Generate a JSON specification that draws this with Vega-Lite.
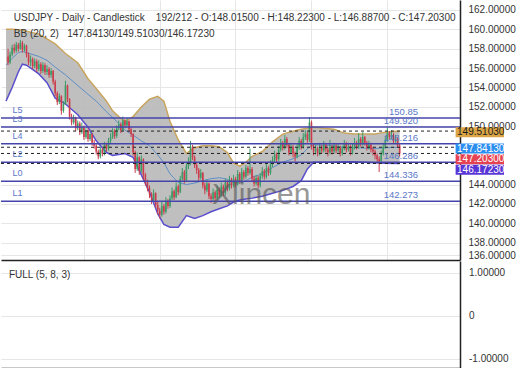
{
  "$schema": "https://vega.github.io/schema/vega-lite/v6.json",
  "padding": {"left": 0, "top": 0, "right": 12, "bottom": 0},
  "autosize": {"type": "pad"},
  "background": "white",
  "spacing": 0,
  "config": {
    "view": {"stroke": null},
    "font": "Liberation Sans",
    "axis": {"labelFont": "Liberation Sans", "labelFontSize": 10, "labelColor": "#333333", "labelOverlap": false}
  },
  "datasets": {
    "candles": [
      {"t":1,"o":157.2,"h":158.0,"l":156.3,"c":156.6},{"t":2,"o":156.6,"h":157.7,"l":156.4,"c":157.4},{"t":3,"o":157.4,"h":158.4,"l":157.2,"c":158.1},{"t":4,"o":158.1,"h":158.5,"l":157.5,"c":157.8},{"t":5,"o":157.8,"h":158.7,"l":157.6,"c":158.4},
      {"t":6,"o":158.4,"h":158.6,"l":157.7,"c":158.0},{"t":7,"o":158.0,"h":158.9,"l":157.9,"c":158.6},{"t":8,"o":158.6,"h":158.8,"l":157.6,"c":157.9},{"t":9,"o":157.9,"h":158.5,"l":157.7,"c":158.3},{"t":10,"o":158.3,"h":158.4,"l":157.1,"c":157.4},
      {"t":11,"o":157.4,"h":157.6,"l":156.3,"c":156.6},{"t":12,"o":156.6,"h":157.3,"l":156.2,"c":156.9},{"t":13,"o":156.9,"h":157.1,"l":155.9,"c":156.2},{"t":14,"o":156.2,"h":157.0,"l":156.0,"c":156.7},{"t":15,"o":156.7,"h":156.9,"l":155.6,"c":155.9},
      {"t":16,"o":155.9,"h":156.8,"l":155.7,"c":156.4},{"t":17,"o":156.4,"h":156.6,"l":155.4,"c":155.7},{"t":18,"o":155.7,"h":156.6,"l":155.5,"c":156.3},{"t":19,"o":156.3,"h":156.5,"l":155.3,"c":155.6},{"t":20,"o":155.6,"h":156.3,"l":155.3,"c":155.9},
      {"t":21,"o":155.9,"h":156.1,"l":155.0,"c":155.3},{"t":22,"o":155.3,"h":156.0,"l":155.0,"c":155.7},{"t":23,"o":155.7,"h":155.8,"l":154.3,"c":154.6},{"t":24,"o":154.6,"h":154.8,"l":153.1,"c":153.4},{"t":25,"o":153.4,"h":153.6,"l":152.2,"c":152.5},
      {"t":26,"o":152.5,"h":153.4,"l":152.3,"c":153.1},{"t":27,"o":153.1,"h":153.2,"l":151.2,"c":151.6},{"t":28,"o":151.6,"h":152.6,"l":151.4,"c":152.3},{"t":29,"o":152.3,"h":154.7,"l":152.2,"c":154.2},{"t":30,"o":154.2,"h":154.3,"l":152.5,"c":152.8},
      {"t":31,"o":152.8,"h":152.9,"l":150.7,"c":151.0},{"t":32,"o":151.0,"h":151.3,"l":150.1,"c":150.4},{"t":33,"o":150.4,"h":151.2,"l":150.2,"c":150.9},{"t":34,"o":150.9,"h":151.0,"l":149.5,"c":149.8},{"t":35,"o":149.8,"h":150.6,"l":149.6,"c":150.3},
      {"t":36,"o":150.3,"h":150.5,"l":149.1,"c":149.4},{"t":37,"o":149.4,"h":150.4,"l":149.2,"c":149.9},{"t":38,"o":149.9,"h":150.1,"l":148.6,"c":148.9},{"t":39,"o":148.9,"h":149.9,"l":148.7,"c":149.6},{"t":40,"o":149.6,"h":149.8,"l":148.4,"c":148.7},
      {"t":41,"o":148.7,"h":149.5,"l":148.5,"c":149.2},{"t":42,"o":149.2,"h":149.3,"l":148.0,"c":148.3},{"t":43,"o":148.3,"h":148.6,"l":147.7,"c":148.0},{"t":44,"o":148.0,"h":148.2,"l":147.1,"c":147.4},{"t":45,"o":147.4,"h":147.6,"l":146.6,"c":146.9},
      {"t":46,"o":146.9,"h":147.9,"l":146.7,"c":147.6},{"t":47,"o":147.6,"h":147.8,"l":146.9,"c":147.2},{"t":48,"o":147.2,"h":148.4,"l":147.0,"c":148.1},{"t":49,"o":148.1,"h":148.3,"l":147.4,"c":147.7},{"t":50,"o":147.7,"h":148.8,"l":147.5,"c":148.5},
      {"t":51,"o":148.5,"h":149.3,"l":148.2,"c":148.9},{"t":52,"o":148.9,"h":149.8,"l":148.7,"c":149.5},{"t":53,"o":149.5,"h":149.7,"l":148.7,"c":149.0},{"t":54,"o":149.0,"h":150.1,"l":148.8,"c":149.8},{"t":55,"o":149.8,"h":150.6,"l":149.6,"c":150.2},
      {"t":56,"o":150.2,"h":150.4,"l":149.3,"c":149.6},{"t":57,"o":149.6,"h":151.0,"l":149.5,"c":150.6},{"t":58,"o":150.6,"h":150.8,"l":149.8,"c":150.1},{"t":59,"o":150.1,"h":150.9,"l":149.9,"c":150.5},{"t":60,"o":150.5,"h":150.6,"l":149.4,"c":149.7},
      {"t":61,"o":149.7,"h":149.9,"l":148.9,"c":149.2},{"t":62,"o":149.2,"h":149.3,"l":147.0,"c":147.3},{"t":63,"o":147.3,"h":147.5,"l":145.2,"c":145.6},{"t":64,"o":145.6,"h":147.3,"l":145.4,"c":146.8},{"t":65,"o":146.8,"h":146.9,"l":145.0,"c":145.4},
      {"t":66,"o":145.4,"h":147.0,"l":145.2,"c":146.6},{"t":67,"o":146.6,"h":146.7,"l":144.5,"c":145.0},{"t":68,"o":145.0,"h":145.2,"l":143.9,"c":144.2},{"t":69,"o":144.2,"h":144.5,"l":143.3,"c":143.6},{"t":70,"o":143.6,"h":143.9,"l":142.6,"c":143.0},
      {"t":71,"o":143.0,"h":143.2,"l":142.0,"c":142.4},{"t":72,"o":142.4,"h":143.5,"l":142.2,"c":143.1},{"t":73,"o":143.1,"h":143.2,"l":141.6,"c":141.9},{"t":74,"o":141.9,"h":142.2,"l":140.9,"c":141.3},{"t":75,"o":141.3,"h":141.6,"l":140.5,"c":140.9},
      {"t":76,"o":140.9,"h":142.2,"l":140.7,"c":141.8},{"t":77,"o":141.8,"h":142.0,"l":140.9,"c":141.2},{"t":78,"o":141.2,"h":142.7,"l":141.0,"c":142.3},{"t":79,"o":142.3,"h":142.5,"l":141.5,"c":141.8},{"t":80,"o":141.8,"h":142.9,"l":141.6,"c":142.6},
      {"t":81,"o":142.6,"h":143.7,"l":142.4,"c":143.3},{"t":82,"o":143.3,"h":143.5,"l":142.4,"c":142.7},{"t":83,"o":142.7,"h":144.2,"l":142.6,"c":143.8},{"t":84,"o":143.8,"h":144.0,"l":142.9,"c":143.2},{"t":85,"o":143.2,"h":144.9,"l":143.1,"c":144.6},
      {"t":86,"o":144.6,"h":145.7,"l":144.4,"c":145.3},{"t":87,"o":145.3,"h":145.5,"l":144.1,"c":144.4},{"t":88,"o":144.4,"h":146.2,"l":144.3,"c":145.9},{"t":89,"o":145.9,"h":146.8,"l":145.6,"c":146.2},{"t":90,"o":146.2,"h":148.5,"l":146.0,"c":147.9},
      {"t":91,"o":147.9,"h":148.1,"l":146.5,"c":146.8},{"t":92,"o":146.8,"h":147.0,"l":145.7,"c":146.0},{"t":93,"o":146.0,"h":146.3,"l":145.1,"c":145.5},{"t":94,"o":145.5,"h":145.7,"l":144.3,"c":144.7},{"t":95,"o":144.7,"h":145.6,"l":144.5,"c":145.2},
      {"t":96,"o":145.2,"h":145.3,"l":143.6,"c":143.9},{"t":97,"o":143.9,"h":144.2,"l":143.0,"c":143.4},{"t":98,"o":143.4,"h":144.5,"l":143.2,"c":144.1},{"t":99,"o":144.1,"h":144.2,"l":142.5,"c":142.8},{"t":100,"o":142.8,"h":143.1,"l":142.1,"c":142.5},
      {"t":101,"o":142.5,"h":143.6,"l":142.3,"c":143.2},{"t":102,"o":143.2,"h":143.4,"l":142.3,"c":142.6},{"t":103,"o":142.6,"h":143.9,"l":142.4,"c":143.5},{"t":104,"o":143.5,"h":143.7,"l":142.6,"c":142.9},{"t":105,"o":142.9,"h":144.2,"l":142.7,"c":143.8},
      {"t":106,"o":143.8,"h":144.0,"l":142.8,"c":143.1},{"t":107,"o":143.1,"h":144.6,"l":142.9,"c":144.2},{"t":108,"o":144.2,"h":144.4,"l":143.3,"c":143.6},{"t":109,"o":143.6,"h":144.9,"l":143.4,"c":144.5},{"t":110,"o":144.5,"h":144.7,"l":143.6,"c":143.9},
      {"t":111,"o":143.9,"h":145.0,"l":143.7,"c":144.6},{"t":112,"o":144.6,"h":144.8,"l":143.7,"c":144.0},{"t":113,"o":144.0,"h":145.5,"l":143.9,"c":145.1},{"t":114,"o":145.1,"h":145.3,"l":144.1,"c":144.4},{"t":115,"o":144.4,"h":145.7,"l":144.2,"c":145.3},
      {"t":116,"o":145.3,"h":145.5,"l":144.5,"c":144.8},{"t":117,"o":144.8,"h":146.0,"l":144.6,"c":145.7},{"t":118,"o":145.7,"h":145.9,"l":144.9,"c":145.2},{"t":119,"o":145.2,"h":147.7,"l":145.0,"c":145.6},{"t":120,"o":145.6,"h":145.8,"l":144.3,"c":144.6},
      {"t":121,"o":144.6,"h":144.9,"l":143.8,"c":144.1},{"t":122,"o":144.1,"h":145.0,"l":143.9,"c":144.7},{"t":123,"o":144.7,"h":144.9,"l":143.6,"c":143.9},{"t":124,"o":143.9,"h":145.2,"l":143.7,"c":144.9},{"t":125,"o":144.9,"h":145.8,"l":144.6,"c":145.4},
      {"t":126,"o":145.4,"h":145.6,"l":144.5,"c":144.8},{"t":127,"o":144.8,"h":146.1,"l":144.6,"c":145.7},{"t":128,"o":145.7,"h":145.9,"l":144.9,"c":145.2},{"t":129,"o":145.2,"h":146.5,"l":145.0,"c":146.1},{"t":130,"o":146.1,"h":146.9,"l":145.8,"c":146.5},
      {"t":131,"o":146.5,"h":147.5,"l":146.3,"c":147.1},{"t":132,"o":147.1,"h":147.3,"l":146.3,"c":146.6},{"t":133,"o":146.6,"h":148.0,"l":146.4,"c":147.6},{"t":134,"o":147.6,"h":148.7,"l":147.4,"c":148.3},{"t":135,"o":148.3,"h":148.5,"l":147.5,"c":147.8},
      {"t":136,"o":147.8,"h":149.1,"l":147.6,"c":148.7},{"t":137,"o":148.7,"h":148.9,"l":147.8,"c":148.1},{"t":138,"o":148.1,"h":148.3,"l":147.0,"c":147.3},{"t":139,"o":147.3,"h":148.3,"l":147.1,"c":147.9},{"t":140,"o":147.9,"h":148.1,"l":146.8,"c":147.2},
      {"t":141,"o":147.2,"h":147.4,"l":146.4,"c":146.9},{"t":142,"o":146.9,"h":148.2,"l":146.7,"c":147.8},{"t":143,"o":147.8,"h":148.9,"l":147.6,"c":148.5},{"t":144,"o":148.5,"h":148.7,"l":147.6,"c":147.9},{"t":145,"o":147.9,"h":149.3,"l":147.7,"c":148.9},
      {"t":146,"o":148.9,"h":149.6,"l":148.6,"c":149.2},{"t":147,"o":149.2,"h":149.4,"l":148.3,"c":148.6},{"t":148,"o":148.6,"h":150.95,"l":148.4,"c":150.4},{"t":149,"o":150.4,"h":150.6,"l":147.6,"c":147.9},{"t":150,"o":147.9,"h":148.2,"l":147.0,"c":147.4},
      {"t":151,"o":147.4,"h":148.1,"l":147.1,"c":147.7},{"t":152,"o":147.7,"h":147.9,"l":146.9,"c":147.2},{"t":153,"o":147.2,"h":148.3,"l":147.0,"c":147.9},{"t":154,"o":147.9,"h":148.1,"l":147.2,"c":147.5},{"t":155,"o":147.5,"h":148.5,"l":147.3,"c":148.1},
      {"t":156,"o":148.1,"h":148.3,"l":147.3,"c":147.6},{"t":157,"o":147.6,"h":147.8,"l":146.9,"c":147.3},{"t":158,"o":147.3,"h":148.6,"l":147.1,"c":147.9},{"t":159,"o":147.9,"h":148.1,"l":147.1,"c":147.4},{"t":160,"o":147.4,"h":148.3,"l":147.2,"c":148.0},
      {"t":161,"o":148.0,"h":148.2,"l":147.2,"c":147.5},{"t":162,"o":147.5,"h":148.2,"l":147.3,"c":147.8},{"t":163,"o":147.8,"h":148.0,"l":146.9,"c":147.2},{"t":164,"o":147.2,"h":148.0,"l":147.0,"c":147.7},{"t":165,"o":147.7,"h":148.6,"l":147.5,"c":148.2},
      {"t":166,"o":148.2,"h":148.4,"l":147.3,"c":147.6},{"t":167,"o":147.6,"h":148.3,"l":147.4,"c":147.9},{"t":168,"o":147.9,"h":148.1,"l":147.0,"c":147.3},{"t":169,"o":147.3,"h":148.2,"l":147.1,"c":147.8},{"t":170,"o":147.8,"h":148.8,"l":147.6,"c":148.3},
      {"t":171,"o":148.3,"h":148.5,"l":147.6,"c":147.9},{"t":172,"o":147.9,"h":149.3,"l":147.7,"c":148.7},{"t":173,"o":148.7,"h":148.9,"l":147.9,"c":148.2},{"t":174,"o":148.2,"h":149.4,"l":148.0,"c":148.9},{"t":175,"o":148.9,"h":149.0,"l":148.0,"c":148.3},
      {"t":176,"o":148.3,"h":148.5,"l":147.5,"c":147.8},{"t":177,"o":147.8,"h":148.5,"l":147.6,"c":148.1},{"t":178,"o":148.1,"h":148.3,"l":147.3,"c":147.6},{"t":179,"o":147.6,"h":147.9,"l":147.0,"c":147.4},{"t":180,"o":147.4,"h":147.6,"l":146.6,"c":147.0},
      {"t":181,"o":147.0,"h":147.2,"l":146.2,"c":146.6},{"t":182,"o":146.6,"h":146.9,"l":145.3,"c":146.4},{"t":183,"o":146.4,"h":147.5,"l":146.2,"c":147.2},{"t":184,"o":147.2,"h":148.3,"l":147.0,"c":147.9},{"t":185,"o":147.9,"h":149.0,"l":147.7,"c":148.6},
      {"t":186,"o":148.6,"h":149.9,"l":148.4,"c":149.3},{"t":187,"o":149.3,"h":149.5,"l":148.6,"c":148.9},{"t":188,"o":148.9,"h":149.6,"l":148.7,"c":149.1},{"t":189,"o":149.1,"h":149.3,"l":148.2,"c":148.5},{"t":190,"o":148.5,"h":149.1,"l":148.3,"c":148.7},
      {"t":191,"o":148.7,"h":148.9,"l":147.8,"c":148.015},{"t":192,"o":148.015,"h":148.223,"l":146.887,"c":147.203}
    ],
    "bands": [
      {"t":0,"u":160.0,"m":156.3,"l":152.6},{"t":3,"u":160.0,"m":157.0,"l":154.0},{"t":6,"u":159.95,"m":157.6,"l":155.6},{"t":8,"u":159.9,"m":157.7,"l":156.4},
      {"t":10,"u":159.8,"m":157.6,"l":156.3},{"t":16,"u":159.5,"m":157.2,"l":155.4},{"t":20,"u":159.0,"m":156.8,"l":154.5},{"t":24,"u":158.5,"m":156.1,"l":152.9},
      {"t":29,"u":157.5,"m":155.3,"l":152.3},{"t":35,"u":156.55,"m":154.2,"l":151.2},{"t":40,"u":154.9,"m":153.3,"l":149.9},{"t":44,"u":153.9,"m":152.6,"l":148.5},
      {"t":49,"u":152.6,"m":151.5,"l":147.3},{"t":52,"u":151.6,"m":150.9,"l":147.0},{"t":55,"u":151.0,"m":150.3,"l":147.1},{"t":58,"u":150.5,"m":149.6,"l":147.2},
      {"t":62,"u":151.0,"m":149.1,"l":146.8},{"t":66,"u":152.0,"m":148.5,"l":145.0},{"t":70,"u":152.8,"m":148.0,"l":143.2},{"t":74,"u":153.1,"m":147.05,"l":141.0},{"t":77,"u":152.6,"m":146.25,"l":139.9},
      {"t":80,"u":150.5,"m":145.1,"l":139.6},{"t":84,"u":148.6,"m":144.2,"l":139.6},{"t":88,"u":147.2,"m":144.0,"l":140.8},{"t":92,"u":147.8,"m":144.15,"l":140.5},
      {"t":96,"u":148.0,"m":144.4,"l":140.8},{"t":100,"u":148.0,"m":144.6,"l":141.2},{"t":104,"u":147.9,"m":144.7,"l":141.5},{"t":108,"u":147.3,"m":144.55,"l":141.8},
      {"t":111,"u":146.2,"m":144.2,"l":142.2},{"t":114,"u":145.9,"m":144.15,"l":142.4},{"t":117,"u":146.3,"m":144.4,"l":142.5},{"t":120,"u":146.9,"m":144.75,"l":142.6},
      {"t":125,"u":147.4,"m":145.1,"l":142.8},{"t":130,"u":148.4,"m":145.75,"l":143.1},{"t":135,"u":149.2,"m":146.3,"l":143.4},{"t":140,"u":149.5,"m":146.65,"l":143.8},
      {"t":144,"u":149.7,"m":147.05,"l":144.4},{"t":147,"u":149.8,"m":147.7,"l":145.6},{"t":150,"u":149.9,"m":148.1,"l":146.3},{"t":155,"u":149.8,"m":148.05,"l":146.3},
      {"t":160,"u":149.7,"m":148.0,"l":146.3},{"t":165,"u":149.3,"m":147.8,"l":146.35},{"t":170,"u":149.2,"m":147.8,"l":146.35},{"t":175,"u":149.2,"m":147.75,"l":146.3},
      {"t":180,"u":149.2,"m":147.7,"l":146.25},{"t":185,"u":149.4,"m":147.8,"l":146.2},{"t":192,"u":149.5103,"m":147.8413,"l":146.1723}
    ],
    "levels": [
      {"v":150.85,"name":"L5","lab":"150.85"},{"v":149.92,"name":"L3","lab":"149.920"},{"v":148.216,"name":"L4","lab":"148.216"},
      {"v":146.286,"name":"L2","lab":"146.286"},{"v":144.336,"name":"L0","lab":"144.336"},{"v":142.273,"name":"L1","lab":"142.273"}
    ],
    "cur": [
      {"v":149.5103,"lab":"149.51030","k":"u"},{"v":147.8413,"lab":"147.84130","k":"m"},{"v":147.203,"lab":"147.20300","k":"c"},{"v":146.1723,"lab":"146.17230","k":"l"}
    ],
    "fullticks": [
      {"v":1,"s":"1.00000"},{"v":0.0001,"s":"0\u00a0"},{"v":-1,"s":"-1.00000"}
    ]
  },
  "vconcat": [
    {
      "width": 459,
      "height": 260,
      "layer": [
        {
          "data": {"name": "bands"},
          "mark": {"type": "area", "color": "#b8b8b8", "opacity": 0.9, "clip": true},
          "encoding": {
            "x": {"field": "t", "type": "quantitative", "scale": {"domain": [0, 219], "nice": false, "zero": false},
              "axis": {"title": null, "orient": "bottom", "values": [38.2, 74.9, 111.7, 148.9, 185.6], "tickCount": 30, "labels": false, "ticks": false, "domain": true, "domainColor": "#222222", "domainWidth": 1.5, "grid": true, "gridColor": "#e6e6e6"}},
            "y": {"field": "l", "type": "quantitative", "scale": {"domain": [136.74, 162.5], "nice": false, "zero": false},
              "axis": {"title": null, "orient": "right", "values": [136.74, 138, 140, 142, 144, 150, 152, 154, 156, 158, 160, 162], "tickCount": 40, "labelExpr": "datum.value < 137 ? '136.00000' : format(datum.value, '.5f')", "labelOverlap": false, "ticks": false, "labelPadding": 8, "domain": true, "domainColor": "#222222", "domainWidth": 1.5, "grid": true, "gridColor": "#e6e6e6"}},
            "y2": {"field": "u"}
          }
        },
        {
          "data": {"name": "bands"},
          "mark": {"type": "line", "color": "#c9a55e", "strokeWidth": 1.5, "clip": true},
          "encoding": {"x": {"field": "t", "type": "quantitative", "axis": {"title": null}}, "y": {"field": "u", "type": "quantitative", "axis": {"title": null}}}
        },
        {
          "data": {"name": "bands"},
          "mark": {"type": "line", "color": "#5a4fcc", "strokeWidth": 1.5, "clip": true},
          "encoding": {"x": {"field": "t", "type": "quantitative", "axis": {"title": null}}, "y": {"field": "l", "type": "quantitative", "axis": {"title": null}}}
        },
        {
          "data": {"name": "bands"},
          "mark": {"type": "line", "color": "#5e8fc6", "strokeWidth": 1, "clip": true},
          "encoding": {"x": {"field": "t", "type": "quantitative", "axis": {"title": null}}, "y": {"field": "m", "type": "quantitative", "axis": {"title": null}}}
        },
        {
          "data": {"name": "candles"},
          "mark": {"type": "rule", "strokeWidth": 1, "clip": true},
          "encoding": {
            "x": {"field": "t", "type": "quantitative", "axis": {"title": null}},
            "y": {"field": "l", "type": "quantitative", "axis": {"title": null}},
            "y2": {"field": "h"},
            "color": {"condition": {"test": "datum.c >= datum.o", "value": "#3d9b66"}, "value": "#cc3c4c"}
          }
        },
        {
          "data": {"name": "candles"},
          "mark": {"type": "bar", "width": 1.6, "clip": true},
          "encoding": {
            "x": {"field": "t", "type": "quantitative", "axis": {"title": null}},
            "y": {"field": "o", "type": "quantitative", "axis": {"title": null}},
            "y2": {"field": "c"},
            "color": {"condition": {"test": "datum.c >= datum.o", "value": "#3d9b66"}, "value": "#cc3c4c"}
          }
        },
        {
          "data": {"name": "levels"},
          "mark": {"type": "rule", "color": "#4444aa", "strokeWidth": 1.5},
          "encoding": {"y": {"field": "v", "type": "quantitative", "axis": {"title": null}}}
        },
        {
          "data": {"name": "cur"},
          "mark": {"type": "rule", "color": "#222222", "strokeWidth": 1, "strokeDash": [3, 3]},
          "encoding": {"y": {"field": "v", "type": "quantitative", "axis": {"title": null}}}
        },
        {
          "data": {"name": "levels"},
          "mark": {"type": "text", "align": "left", "baseline": "bottom", "dy": -3, "fontSize": 9, "color": "#5a78c8"},
          "encoding": {"x": {"datum": 3.2, "axis": {"title": null}}, "y": {"field": "v", "type": "quantitative", "axis": {"title": null}}, "text": {"field": "name"}}
        },
        {
          "data": {"name": "levels"},
          "mark": {"type": "text", "align": "right", "baseline": "bottom", "dy": -1, "fontSize": 9.5, "color": "#5a78c8"},
          "encoding": {"x": {"datum": 201, "axis": {"title": null}}, "y": {"field": "v", "type": "quantitative", "axis": {"title": null}}, "text": {"field": "lab"}}
        },
        {
          "data": {"values": [{}]},
          "mark": {"type": "text", "text": "Xlincen", "align": "center", "baseline": "alphabetic", "fontSize": 30, "color": "#555555", "opacity": 0.6},
          "encoding": {"x": {"datum": 124.5, "axis": {"title": null}}, "y": {"datum": 142.0, "axis": {"title": null}}}
        },
        {
          "data": {"values": [{}]},
          "mark": {"type": "text", "text": "USDJPY - Daily - Candlestick\u00a0\u00a0\u00a0\u00a0192/212 - O:148.01500 - H:148.22300 - L:146.88700 - C:147.20300", "align": "left", "baseline": "middle", "fontSize": 10, "color": "#333333"},
          "encoding": {"x": {"datum": 3.8, "axis": {"title": null}}, "y": {"datum": 161.18, "axis": {"title": null}}}
        },
        {
          "data": {"values": [{}]},
          "mark": {"type": "text", "text": "BB (20, 2)\u00a0\u00a0\u00a0147.84130/149.51030/146.17230", "align": "left", "baseline": "middle", "fontSize": 10, "color": "#333333"},
          "encoding": {"x": {"datum": 3.8, "axis": {"title": null}}, "y": {"datum": 159.53, "axis": {"title": null}}}
        },
        {
          "data": {"name": "cur"},
          "transform": [{"filter": "datum.k == 'u' || datum.k == 'm'"}],
          "layer": [
            {"mark": {"type": "bar", "height": 10, "yOffset": 1.3, "clip": false},
             "encoding": {"x": {"datum": 219.3, "axis": {"title": null}}, "x2": {"datum": 242.9}, "y": {"field": "v", "type": "quantitative", "axis": {"title": null}},
               "color": {"field": "k", "type": "nominal", "scale": {"domain": ["u", "m", "c", "l"], "range": ["#dba545", "#2b8ef0", "#e64352", "#5836d6"]}, "legend": null}}},
            {"mark": {"type": "text", "align": "left", "baseline": "middle", "fontSize": 10, "yOffset": 1.3, "clip": false},
             "encoding": {"x": {"datum": 220.0, "axis": {"title": null}}, "y": {"field": "v", "type": "quantitative", "axis": {"title": null}}, "text": {"field": "lab"},
               "color": {"condition": {"test": "datum.k == 'u'", "value": "#1a1a1a"}, "value": "#ffffff"}}}
          ]
        },
        {
          "data": {"name": "cur"},
          "transform": [{"filter": "datum.k == 'c'"}],
          "layer": [
            {"mark": {"type": "bar", "height": 10, "yOffset": 5.7, "clip": false},
             "encoding": {"x": {"datum": 219.3, "axis": {"title": null}}, "x2": {"datum": 242.9}, "y": {"field": "v", "type": "quantitative", "axis": {"title": null}},
               "color": {"field": "k", "type": "nominal", "scale": {"domain": ["u", "m", "c", "l"], "range": ["#dba545", "#2b8ef0", "#e64352", "#5836d6"]}, "legend": null}}},
            {"mark": {"type": "text", "align": "left", "baseline": "middle", "fontSize": 10, "yOffset": 5.7, "clip": false, "color": "#ffffff"},
             "encoding": {"x": {"datum": 220.0, "axis": {"title": null}}, "y": {"field": "v", "type": "quantitative", "axis": {"title": null}}, "text": {"field": "lab"}}}
          ]
        },
        {
          "data": {"name": "cur"},
          "transform": [{"filter": "datum.k == 'l'"}],
          "layer": [
            {"mark": {"type": "bar", "height": 10, "yOffset": 6.3, "clip": false},
             "encoding": {"x": {"datum": 219.3, "axis": {"title": null}}, "x2": {"datum": 242.9}, "y": {"field": "v", "type": "quantitative", "axis": {"title": null}},
               "color": {"field": "k", "type": "nominal", "scale": {"domain": ["u", "m", "c", "l"], "range": ["#dba545", "#2b8ef0", "#e64352", "#5836d6"]}, "legend": null}}},
            {"mark": {"type": "text", "align": "left", "baseline": "middle", "fontSize": 10, "yOffset": 6.3, "clip": false, "color": "#ffffff"},
             "encoding": {"x": {"datum": 220.0, "axis": {"title": null}}, "y": {"field": "v", "type": "quantitative", "axis": {"title": null}}, "text": {"field": "lab"}}}
          ]
        }
      ]
    },
    {
      "width": 459,
      "height": 107,
      "layer": [
        {
          "data": {"name": "fullticks"},
          "mark": {"type": "text", "align": "left", "baseline": "middle", "fontSize": 10, "color": "#333333", "clip": false},
          "encoding": {
            "x": {"datum": 223.3, "type": "quantitative", "scale": {"domain": [0, 219], "nice": false, "zero": false},
              "axis": {"title": null, "orient": "bottom", "labels": false, "ticks": false, "grid": false, "domain": true, "domainColor": "#222222", "domainWidth": 1.5}},
            "y": {"field": "v", "type": "quantitative", "scale": {"domain": [-1.209, 1.279], "nice": false, "zero": false},
              "axis": {"title": null, "orient": "right", "values": [-1, 0, 1], "tickCount": 20, "labels": false, "ticks": false, "domain": true, "domainColor": "#222222", "domainWidth": 1.5, "grid": true, "gridColor": "#e6e6e6"}},
            "text": {"field": "s", "type": "nominal"}
          }
        },
        {
          "data": {"values": [{}]},
          "mark": {"type": "text", "text": "FULL (5, 8, 3)", "align": "left", "baseline": "middle", "fontSize": 10, "color": "#333333"},
          "encoding": {
            "x": {"datum": 3.8, "type": "quantitative", "axis": {"title": null}},
            "y": {"datum": 0.953, "type": "quantitative", "axis": {"title": null}}
          }
        }
      ]
    }
  ]
}
